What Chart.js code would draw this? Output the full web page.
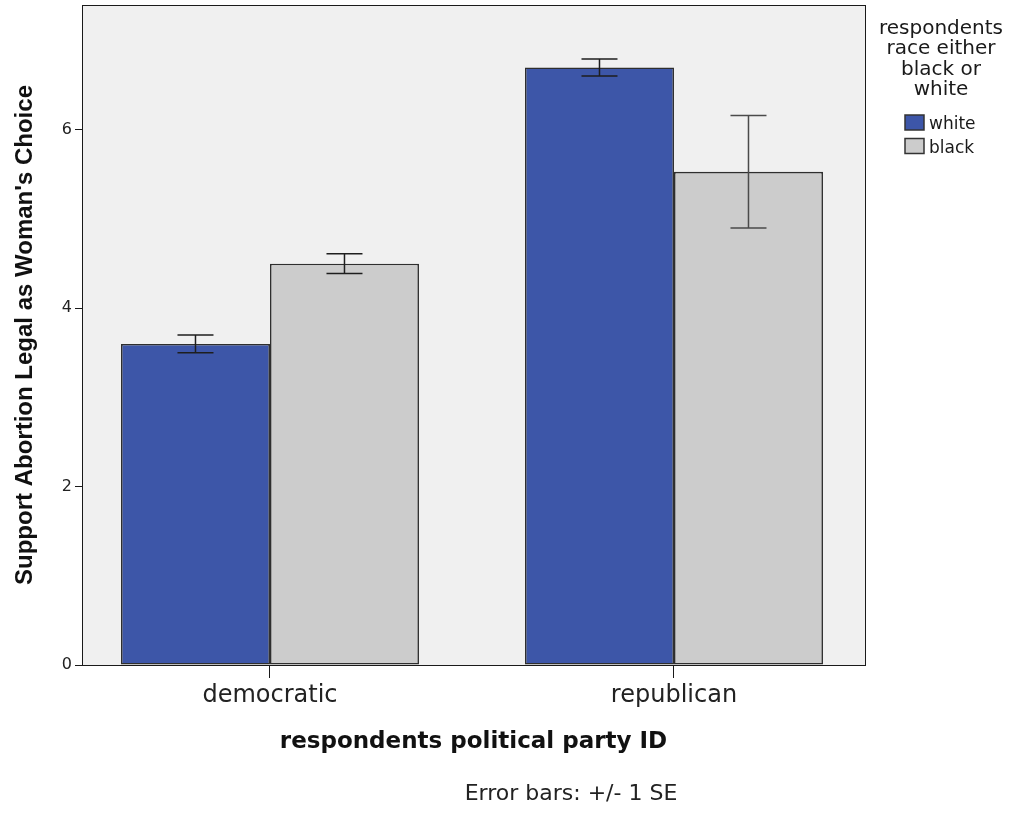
<!DOCTYPE html>
<html>
<head>
<meta charset="utf-8">
<script src="https://cdn.jsdelivr.net/npm/chart.js@4/dist/chart.umd.min.js"></script>
<style>
  html, body { margin: 0; padding: 0; background: #ffffff; }
  #c { display: block; }
</style>
</head>
<body>
<canvas id="c" width="1013" height="814"></canvas>
<script>
// Mean support score by party and race, with +/- 1 standard error
const categories = ['democratic', 'republican'];
const seriesNames = ['white', 'black'];
const whiteMeans = [3.60, 6.70];
const whiteSE = [0.10, 0.095];
const blackMeans = [4.50, 5.53];
const blackSE = [0.11, 0.63];
const yTicks = [0, 2, 4, 6];
const yMax = 7.4;
const legendTitle = ['respondents', 'race either', 'black or', 'white'];
const footnote = 'Error bars: +/- 1 SE';

const seriesColors = ['#3d56a8', '#cccccc'];
const errors = [whiteSE, blackSE];

// Party groups sit at positions 0 and 1 on the horizontal axis
const toPoints = values => values.map((v, i) => ({ x: i, y: v }));

// Grey plot panel behind the bars and a thin frame around it
const panelPlugin = {
  id: 'panel',
  beforeDraw(chart) {
    const { ctx, chartArea: a } = chart;
    ctx.save();
    ctx.fillStyle = '#ffffff';
    ctx.fillRect(0, 0, chart.width, chart.height);
    ctx.fillStyle = '#f0f0f0';
    ctx.fillRect(a.left, a.top, a.right - a.left, a.bottom - a.top);
    ctx.restore();
  },
  afterDraw(chart) {
    const { ctx, chartArea: a } = chart;
    ctx.save();
    ctx.strokeStyle = '#1a1a1a';
    ctx.lineWidth = 1;
    ctx.strokeRect(Math.round(a.left) + 0.5, Math.round(a.top) + 0.5,
      Math.round(a.right - a.left), Math.round(a.bottom - a.top));
    ctx.restore();
  }
};

// Whiskers of +/- 1 SE on each bar, placed through the value scale
const errorBarPlugin = {
  id: 'errorBars',
  afterDatasetsDraw(chart) {
    const { ctx } = chart;
    const y = chart.scales.y;
    ctx.save();
    ctx.lineWidth = 1.5;
    chart.data.datasets.forEach((ds, di) => {
      const meta = chart.getDatasetMeta(di);
      meta.data.forEach((bar, i) => {
        const m = ds.data[i].y;
        const se = errors[di][i];
        const yTop = y.getPixelForValue(m + se);
        const yBot = y.getPixelForValue(m - se);
        const half = 18;
        ctx.strokeStyle = se > 0.3 ? '#4a4a4a' : '#1e1e1e';
        ctx.beginPath();
        ctx.moveTo(bar.x, yTop); ctx.lineTo(bar.x, yBot);
        ctx.moveTo(bar.x - half, yTop); ctx.lineTo(bar.x + half, yTop);
        ctx.moveTo(bar.x - half, yBot); ctx.lineTo(bar.x + half, yBot);
        ctx.stroke();
      });
    });
    ctx.restore();
  }
};

// Legend block on the right: multi-line title and one swatch per race
const legendPlugin = {
  id: 'raceLegend',
  afterDraw(chart) {
    const { ctx } = chart;
    const cx = 941;
    ctx.save();
    ctx.fillStyle = '#1a1a1a';
    ctx.textAlign = 'center';
    ctx.textBaseline = 'alphabetic';
    ctx.font = '20px "DejaVu Sans"';
    legendTitle.forEach((line, i) => ctx.fillText(line, cx, 34 + i * 20.4));
    ctx.textAlign = 'left';
    ctx.font = '17px "DejaVu Sans"';
    chart.data.datasets.forEach((ds, i) => {
      const top = 115 + i * 23.5;
      ctx.fillStyle = ds.backgroundColor;
      ctx.fillRect(905, top, 19, 15);
      ctx.strokeStyle = '#333333';
      ctx.lineWidth = 1.5;
      ctx.strokeRect(905, top, 19, 15);
      ctx.fillStyle = '#1a1a1a';
      ctx.fillText(ds.label, 929, top + 14);
    });
    ctx.restore();
  }
};

// Note under the axis title
const footnotePlugin = {
  id: 'footnote',
  afterDraw(chart) {
    const { ctx } = chart;
    ctx.save();
    ctx.fillStyle = '#222222';
    ctx.font = '22px "DejaVu Sans"';
    ctx.textAlign = 'center';
    ctx.textBaseline = 'alphabetic';
    ctx.fillText(footnote, 571, 800);
    ctx.restore();
  }
};

new Chart(document.getElementById('c'), {
  type: 'bar',
  data: {
    datasets: [
      { label: seriesNames[0], data: toPoints(whiteMeans), backgroundColor: seriesColors[0] },
      { label: seriesNames[1], data: toPoints(blackMeans), backgroundColor: seriesColors[1] }
    ]
  },
  options: {
    responsive: false,
    devicePixelRatio: 1,
    animation: false,
    layout: { padding: { top: 5, right: 148, bottom: 0, left: 0 } },
    datasets: {
      bar: {
        barPercentage: 1,
        categoryPercentage: 0.7376,
        borderColor: '#2e2e2e',
        borderWidth: 1.6,
        borderSkipped: false
      }
    },
    plugins: {
      legend: { display: false },
      tooltip: { enabled: false }
    },
    scales: {
      x: {
        type: 'linear',
        min: -0.4653,
        max: 1.4728,
        offset: false,
        grid: { display: true, drawOnChartArea: false, offset: false, tickLength: 13, color: '#1a1a1a' },
        border: { display: true, color: '#1a1a1a' },
        ticks: {
          color: '#222222',
          font: { family: 'DejaVu Sans', size: 24 },
          padding: 3,
          callback: v => categories[v] ?? ''
        },
        afterBuildTicks(scale) {
          scale.ticks = categories.map((_, i) => ({ value: i }));
        },
        title: {
          display: true,
          text: 'respondents political party ID',
          color: '#111111',
          font: { family: 'DejaVu Sans', size: 23, weight: 'bold' },
          padding: { top: 0, bottom: 58 }
        },
        afterFit(scale) {
          scale.height = 149;
          scale.paddingLeft = 0;
          scale.paddingRight = 0;
        }
      },
      y: {
        min: 0,
        max: yMax,
        grid: { display: true, drawOnChartArea: false, tickLength: 7, color: '#1a1a1a' },
        border: { display: true, color: '#1a1a1a' },
        ticks: { color: '#222222', font: { family: 'DejaVu Sans', size: 16 }, padding: 3 },
        afterBuildTicks(scale) {
          scale.ticks = yTicks.map(v => ({ value: v }));
        },
        title: {
          display: true,
          text: "Support Abortion Legal as Woman's Choice",
          color: '#111111',
          font: { family: 'Liberation Sans', size: 24, weight: 'bold' },
          padding: { top: 11, bottom: 0 }
        },
        afterFit(scale) {
          scale.width = 82;
          scale.paddingTop = 0;
          scale.paddingBottom = 0;
        }
      }
    }
  },
  plugins: [panelPlugin, errorBarPlugin, legendPlugin, footnotePlugin]
});
</script>
</body>
</html>
